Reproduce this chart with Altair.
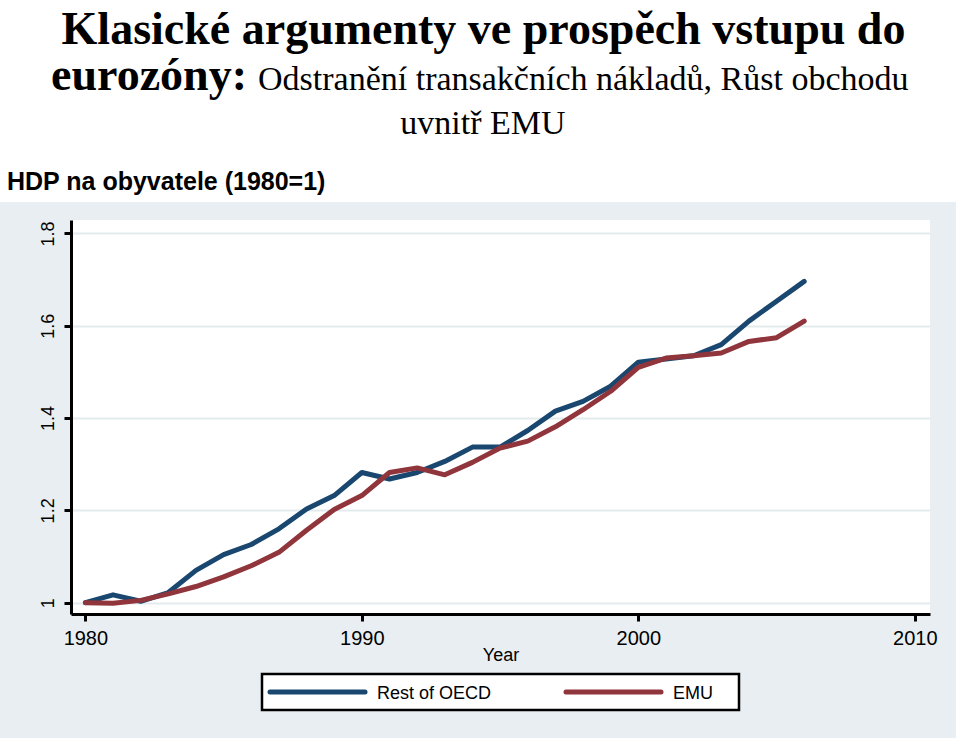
import altair as alt
import pandas as pd

# ---- data ----
years = list(range(1980, 2007))
oecd = [1.000, 1.017, 1.003, 1.022, 1.070, 1.104, 1.126, 1.160, 1.203, 1.232,
        1.282, 1.268, 1.282, 1.306, 1.337, 1.337, 1.373, 1.415, 1.436, 1.469,
        1.521, 1.528, 1.535, 1.559, 1.610, 1.653, 1.696]
emu = [1.000, 0.999, 1.005, 1.019, 1.035, 1.056, 1.080, 1.109, 1.157, 1.202,
       1.232, 1.282, 1.292, 1.277, 1.304, 1.335, 1.350, 1.381, 1.418, 1.458,
       1.510, 1.530, 1.535, 1.541, 1.566, 1.574, 1.610]
series_names = ["Rest of OECD", "EMU"]
series_colors = ["#1a476f", "#90353b"]
y_ticks = [1.0, 1.2, 1.4, 1.6, 1.8]
x_ticks = [1980, 1990, 2000, 2010]

title_line1 = "Klasické argumenty ve prospěch vstupu do"
title_line2_bold = "eurozóny:"
title_line2_rest = "Odstranění transakčních nákladů, Růst obchodu"
title_line3 = "uvnitř EMU"
y_title = "HDP na obyvatele (1980=1)"
x_title = "Year"

rows = []
for name, vals in zip(series_names, [oecd, emu]):
    for yr, v in zip(years, vals):
        rows.append({"year": yr, "value": v, "series": name})
df = pd.DataFrame(rows)

W, H = 859, 394
PAD = {"left": 71, "top": 220, "right": 29, "bottom": 124}
one = alt.InlineData(values=[{"k": 1}])
color_scale = alt.Scale(domain=series_names, range=series_colors)

# white strips outside the grey panel
top_strip = alt.Chart(one).mark_rect(color="white").encode(
    x=alt.value(-71), x2=alt.value(888), y=alt.value(-220), y2=alt.value(-18))
right_strip = alt.Chart(one).mark_rect(color="white").encode(
    x=alt.value(885), x2=alt.value(890), y=alt.value(-18), y2=alt.value(520))

lines = alt.Chart(df).mark_line(strokeWidth=5, strokeCap="round", strokeJoin="round").encode(
    x=alt.X("year:Q",
            scale=alt.Scale(domain=[1979.48, 2010.55], nice=False, zero=False),
            axis=alt.Axis(values=x_ticks, format="d", title=x_title, grid=False,
                          labelFontSize=20, titleFontSize=18, titleFontWeight="normal",
                          labelPadding=7, titleY=46, titleBaseline="alphabetic")),
    y=alt.Y("value:Q",
            scale=alt.Scale(domain=[0.9755, 1.829], nice=False, zero=False),
            axis=alt.Axis(values=y_ticks, format=".1~f", title=None, grid=True,
                          labelAngle=270, labelAlign="center", labelBaseline="bottom",
                          labelFontSize=18, labelPadding=7)),
    color=alt.Color("series:N", scale=color_scale, legend=None),
)

# ---- legend box drawn by hand (layout only) ----
legend_df = pd.DataFrame({"series": series_names})
legend_box = alt.Chart(one).mark_rect(fill="white", stroke="black", strokeWidth=2.5).encode(
    x=alt.value(191), x2=alt.value(668), y=alt.value(454), y2=alt.value(490))
legend_x = {"Rest of OECD": 199, "EMU": 495}
legend_layers = []
for name in series_names:
    x0 = legend_x[name]
    base = alt.Chart(legend_df).transform_filter(alt.datum.series == name)
    legend_layers.append(
        base.mark_rule(strokeWidth=5, strokeCap="round").encode(
            x=alt.value(x0), x2=alt.value(x0 + 95), y=alt.value(472),
            color=alt.Color("series:N", scale=color_scale, legend=None)))
    legend_layers.append(
        base.mark_text(align="left", baseline="alphabetic", fontSize=18,
                       font="Liberation Sans", color="black").encode(
            x=alt.value(x0 + 107), y=alt.value(479), text="series:N"))

def txt(s, x, y, size, weight="normal", align="left", font="Liberation Serif"):
    return alt.Chart(one).mark_text(
        text=s, fontSize=size, fontWeight=weight, align=align,
        baseline="alphabetic", font=font, color="black"
    ).encode(x=alt.value(x), y=alt.value(y))

t1 = txt(title_line1, 412.5, -176, 46, "bold", "center")
t2a = txt(title_line2_bold, 176, -130, 46, "bold", "right")
t2b = txt(title_line2_rest, 187, -130, 34, "normal", "left")
t3 = txt(title_line3, 412, -86, 34, "normal", "center")
t4 = txt(y_title, -64, -30, 25, "bold", "left", font="Liberation Sans")

chart = alt.layer(top_strip, right_strip, lines, legend_box, *legend_layers,
                  t1, t2a, t2b, t3, t4).properties(
    width=W, height=H, padding=PAD, autosize=alt.AutoSizeParams(type="none"),
    background="#e8eef1"
).configure_view(fill="white", stroke=None).configure_axis(
    domainColor="black", domainWidth=3, tickColor="black", tickWidth=3, tickSize=7,
    labelColor="black", titleColor="black", labelFont="Liberation Sans",
    titleFont="Liberation Sans", gridColor="#e4ebee", gridWidth=2
)

chart.save("out.html", embed_options={"renderer": "svg", "actions": False})
